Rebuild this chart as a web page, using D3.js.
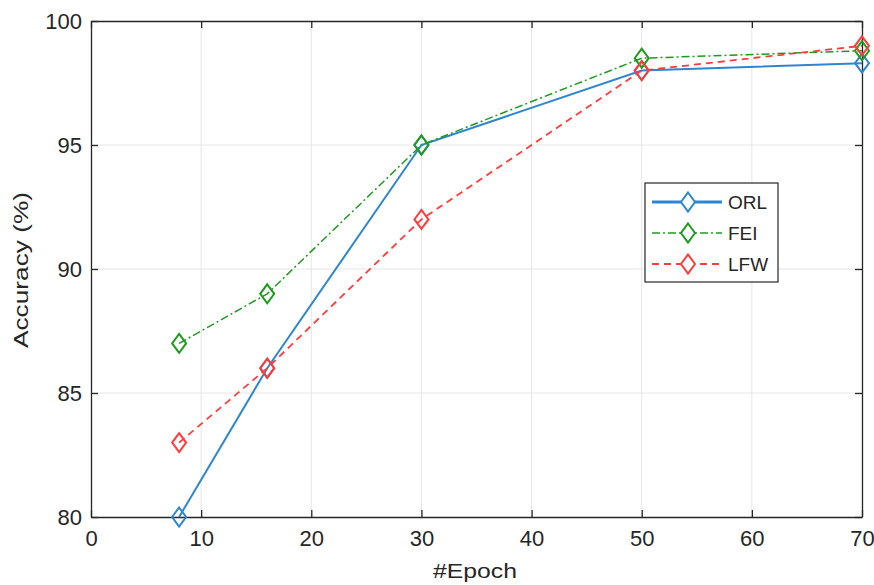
<!DOCTYPE html>
<html>
<head>
<meta charset="utf-8">
<script src="https://cdn.jsdelivr.net/npm/d3@7"></script>
<style>
  body { margin: 0; background: #fff; }
  text { font-family: "Liberation Sans", Arial, sans-serif; fill: #262626; }
</style>
</head>
<body>
<svg width="874" height="585"></svg>
<script>
// data
var epochs = [8, 16, 30, 50, 70];
var orl = [80, 86, 95, 98, 98.3];
var fei = [87, 89, 95, 98.5, 98.8];
var lfw = [83, 86, 92, 98, 99];
var seriesNames = ["ORL", "FEI", "LFW"];
var xTicks = [0, 10, 20, 30, 40, 50, 60, 70];
var yTicks = [80, 85, 90, 95, 100];

var svg = d3.select("svg"),
  margin = { left: 91, right: 12, top: 21, bottom: 68 },
  width = 874 - margin.left - margin.right,
  height = 585 - margin.top - margin.bottom;

var x = d3.scaleLinear().domain([0, 70]).range([0, width]);
var y = d3.scaleLinear().domain([80, 100]).range([height, 0]);

var g = svg.append("g")
  .attr("transform", "translate(" + margin.left + "," + margin.top + ")");

// grid
g.append("g").selectAll("line")
  .data(xTicks.slice(1, -1))
  .enter().append("line")
  .attr("x1", d => x(d)).attr("x2", d => x(d))
  .attr("y1", 0).attr("y2", height)
  .attr("stroke", "#e6e6e6").attr("stroke-width", 1);
g.append("g").selectAll("line")
  .data(yTicks.slice(1, -1))
  .enter().append("line")
  .attr("y1", d => y(d)).attr("y2", d => y(d))
  .attr("x1", 0).attr("x2", width)
  .attr("stroke", "#e6e6e6").attr("stroke-width", 1);

// axes (ticks pointing inward, MATLAB style)
function styleAxis(sel, showText) {
  sel.select(".domain").attr("stroke", "#262626").attr("stroke-width", 1.3);
  sel.selectAll(".tick line").attr("stroke", "#262626").attr("stroke-width", 1.3);
  sel.selectAll(".tick text").attr("font-size", 22).attr("fill", "#333")
    .style("display", showText ? null : "none");
}

g.append("g")
  .attr("transform", "translate(0," + height + ")")
  .call(d3.axisBottom(x).tickValues(xTicks).tickSizeInner(-7).tickSizeOuter(0).tickPadding(13))
  .call(s => styleAxis(s, true));
g.append("g")
  .call(d3.axisTop(x).tickValues(xTicks).tickSizeInner(-7).tickSizeOuter(0))
  .call(s => styleAxis(s, false));
g.append("g")
  .call(d3.axisLeft(y).tickValues(yTicks).tickSizeInner(-7).tickSizeOuter(0).tickPadding(9))
  .call(s => styleAxis(s, true));
g.append("g")
  .attr("transform", "translate(" + width + ",0)")
  .call(d3.axisRight(y).tickValues(yTicks).tickSizeInner(-7).tickSizeOuter(0))
  .call(s => styleAxis(s, false));

// axis labels
svg.append("text")
  .attr("x", 433).attr("y", 578)
  .attr("font-size", 20)
  .attr("textLength", 84).attr("lengthAdjust", "spacingAndGlyphs")
  .text("#Epoch");
svg.append("text")
  .attr("transform", "translate(28,348) rotate(-90)")
  .attr("font-size", 21)
  .attr("textLength", 156).attr("lengthAdjust", "spacingAndGlyphs")
  .text("Accuracy (%)");

var styles = [
  { color: "#2e86d1", dash: null, width: 2, values: orl },
  { color: "#1f9a1f", dash: "8,3,2,3", width: 1.5, values: fei },
  { color: "#ff3b3b", dash: "7,5", width: 1.8, values: lfw }
];

var line = d3.line().x(d => x(d[0])).y(d => y(d[1]));
function diamond(cx, cy) {
  var w = 7, h = 9.5;
  return "M" + cx + "," + (cy - h) + "L" + (cx + w) + "," + cy +
    "L" + cx + "," + (cy + h) + "L" + (cx - w) + "," + cy + "Z";
}

styles.forEach(function (s) {
  var pts = epochs.map((e, i) => [e, s.values[i]]);
  g.append("path")
    .datum(pts)
    .attr("d", line)
    .attr("fill", "none")
    .attr("stroke", s.color)
    .attr("stroke-width", s.width)
    .attr("stroke-dasharray", s.dash);
  g.append("g").selectAll("path")
    .data(pts)
    .enter().append("path")
    .attr("d", d => diamond(x(d[0]), y(d[1])))
    .attr("fill", "none")
    .attr("stroke", s.color)
    .attr("stroke-width", 2);
});

// legend
var legend = svg.append("g").attr("transform", "translate(645,183)");
legend.append("rect")
  .attr("width", 133).attr("height", 99)
  .attr("fill", "#fff").attr("stroke", "#262626").attr("stroke-width", 1.2);
styles.forEach(function (s, i) {
  var ly = 19 + i * 31;
  legend.append("line")
    .attr("x1", 7).attr("x2", 77).attr("y1", ly).attr("y2", ly)
    .attr("stroke", s.color)
    .attr("stroke-width", i === 0 ? 3.2 : s.width)
    .attr("stroke-dasharray", s.dash);
  legend.append("path")
    .attr("d", diamond(43, ly))
    .attr("fill", "#fff")
    .attr("stroke", s.color)
    .attr("stroke-width", 2);
  legend.append("text")
    .attr("x", 83).attr("y", ly + 7)
    .attr("font-size", 19)
    .text(seriesNames[i]);
});
</script>
</body>
</html>
